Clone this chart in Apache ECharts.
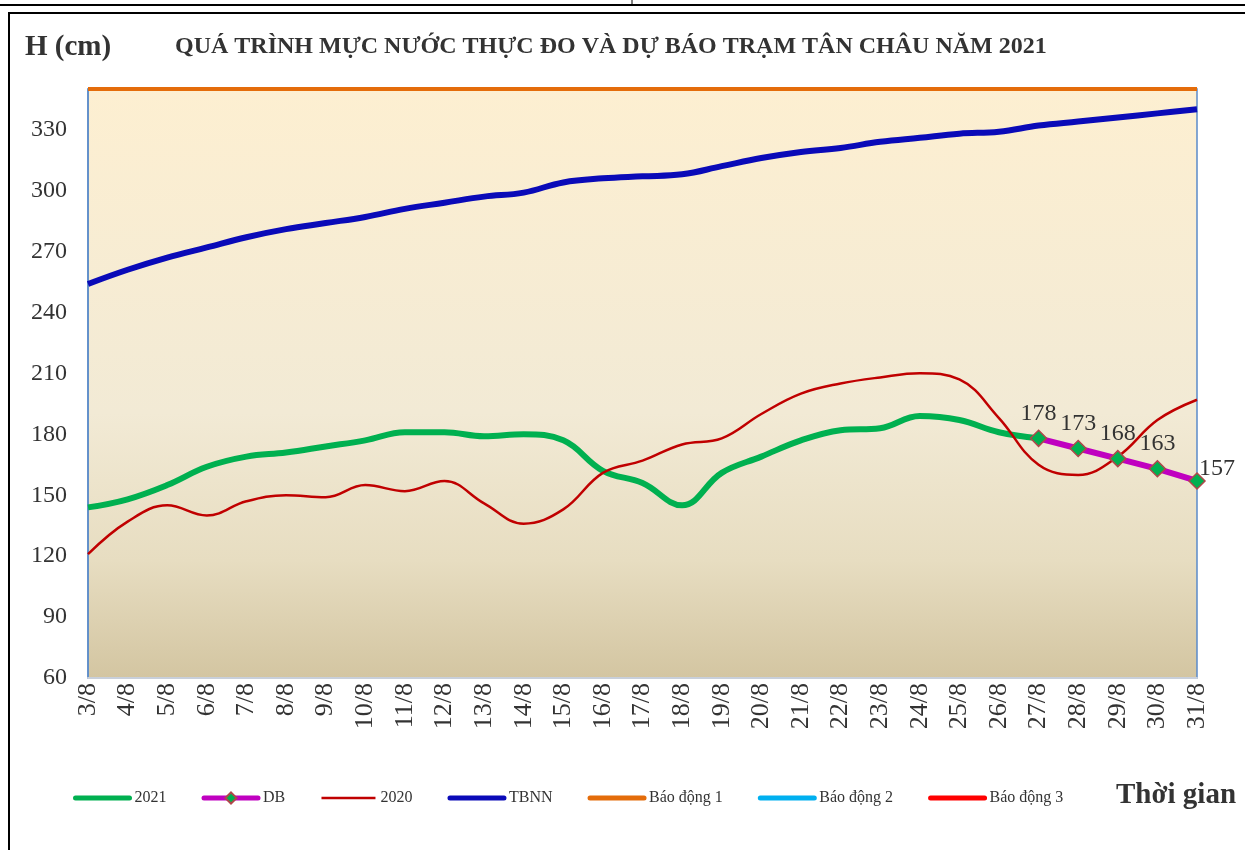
<!DOCTYPE html>
<html>
<head>
<meta charset="utf-8">
<script src="https://cdn.jsdelivr.net/npm/echarts@6/dist/echarts.min.js"></script>
<style>
  html, body { margin: 0; padding: 0; background: #fff; }
  #chart { width: 1245px; height: 850px; }
</style>
</head>
<body>
<div id="chart"></div>
<script>
var dates = ['3/8','4/8','5/8','6/8','7/8','8/8','9/8','10/8','11/8','12/8','13/8','14/8','15/8','16/8','17/8',
  '18/8','19/8','20/8','21/8','22/8','23/8','24/8','25/8','26/8','27/8','28/8','29/8','30/8','31/8'];
var h2021 = [144,148,155,164,169,171,174,177,181,181,179,180,177,162,156,145,161,169,177,182,183,189,187,181,178,
  null,null,null,null];
var db = [null,null,null,null,null,null,null,null,null,null,null,null,null,null,null,null,null,null,null,null,null,null,null,null,
  178,173,168,163,157];
var h2020 = [121,137,145,140,147,150,149,155,152,157,146,136,143,161,167,175,178,190,200,205,208,210,207,188,165,160,169,187,197];
var tbnn = [254,261,267,272,277,281,284,287,291,294,297,299,304,306,307,308,312,316,319,321,324,326,328,329,332,334,336,338,340];
var bd1 = [350,350,350,350,350,350,350,350,350,350,350,350,350,350,350,350,350,350,350,350,350,350,350,350,350,350,350,350,350];
var bd2 = [400,400,400,400,400,400,400,400,400,400,400,400,400,400,400,400,400,400,400,400,400,400,400,400,400,400,400,400,400];
var bd3 = [450,450,450,450,450,450,450,450,450,450,450,450,450,450,450,450,450,450,450,450,450,450,450,450,450,450,450,450,450];

var serif = '"Liberation Serif", "DejaVu Serif", serif';
var myChart = echarts.init(document.getElementById('chart'));

var dbData = db.map(function (v, i) {
  if (i === db.length - 1) return { value: v, label: { offset: [20, 12] } };
  return v;
});

// legend entries: plain lines (symbol hidden), DB keeps its diamond
var noSym = { opacity: 0 };

var option = {
  animation: false,
  title: {
    text: 'QUÁ TRÌNH MỰC NƯỚC THỰC ĐO VÀ DỰ BÁO TRẠM TÂN CHÂU NĂM 2021',
    left: 175, top: 35, padding: 0,
    textStyle: { fontFamily: serif, fontWeight: 'bold', fontSize: 24, color: '#333' }
  },
  graphic: [
    { type: 'line', shape: { x1: 0, y1: 5, x2: 1245, y2: 5 }, style: { stroke: '#000', lineWidth: 2 } },
    { type: 'line', shape: { x1: 632, y1: 0, x2: 632, y2: 5 }, style: { stroke: '#000', lineWidth: 1 } },
    { type: 'rect', shape: { x: 9, y: 13, width: 1250, height: 850 }, style: { fill: null, stroke: '#000', lineWidth: 2 } },
    { type: 'text', left: 25, top: 33, style: { text: 'H (cm)', font: 'bold 29px ' + serif, fill: '#333' } },
    { type: 'text', left: 1116, top: 781, style: { text: 'Thời gian', font: 'bold 29px ' + serif, fill: '#333' } }
  ],
  legend: {
    left: 73, top: 790, padding: 0,
    itemWidth: 54, itemHeight: 14, itemGap: 35,
    textStyle: { fontFamily: serif, fontSize: 16, color: '#333' },
    data: [
      { name: '2021', lineStyle: { width: 5, cap: 'round' }, itemStyle: noSym },
      { name: 'DB', lineStyle: { width: 5, cap: 'round' } },
      { name: '2020', lineStyle: { width: 2.5 }, itemStyle: noSym },
      { name: 'TBNN', lineStyle: { width: 5, cap: 'round' }, itemStyle: noSym },
      { name: 'Báo động 1', lineStyle: { width: 5, cap: 'round' }, itemStyle: noSym },
      { name: 'Báo động 2', lineStyle: { width: 5, cap: 'round' }, itemStyle: noSym },
      { name: 'Báo động 3', lineStyle: { width: 5, cap: 'round' }, itemStyle: noSym }
    ]
  },
  grid: {
    left: 88, right: 48, top: 89, bottom: 172,
    show: true,
    borderColor: '#5B8BC9', borderWidth: 1.5,
    backgroundColor: {
      type: 'linear', x: 0, y: 0, x2: 0, y2: 1,
      colorStops: [
        { offset: 0, color: '#FDEFD1' },
        { offset: 0.55, color: '#F2EAD5' },
        { offset: 0.8, color: '#E7DDC1' },
        { offset: 1, color: '#D3C5A1' }
      ]
    }
  },
  xAxis: {
    type: 'category', boundaryGap: false, data: dates,
    axisLine: { lineStyle: { color: '#C8CFDA', width: 2 } },
    axisTick: { show: false },
    axisLabel: { rotate: 90, interval: 0, margin: 5, fontFamily: serif, fontSize: 26, color: '#333' }
  },
  yAxis: {
    type: 'value', min: 60, max: 350, interval: 30,
    splitLine: { show: false },
    axisLine: { show: true, lineStyle: { color: '#5B8BC9', width: 1.5 } },
    axisTick: { show: false },
    axisLabel: { margin: 21, fontFamily: serif, fontSize: 24, color: '#333', showMaxLabel: false }
  },
  series: [
    { name: '2021', type: 'line', data: h2021, smooth: 0.4, symbol: 'none',
      lineStyle: { color: '#00B050', width: 6 }, itemStyle: { color: '#00B050' } },
    { name: 'DB', type: 'line', data: dbData, symbol: 'diamond', symbolSize: 16, z: 4,
      lineStyle: { color: '#C000C0', width: 6 },
      itemStyle: { color: '#00B050', borderColor: '#B0474A', borderWidth: 1.5 },
      label: { show: true, position: 'top', distance: 4, fontFamily: serif, fontSize: 24, color: '#333' } },
    { name: '2020', type: 'line', data: h2020, smooth: 0.4, symbol: 'none',
      lineStyle: { color: '#C00000', width: 2.5 }, itemStyle: { color: '#C00000' } },
    { name: 'TBNN', type: 'line', data: tbnn, smooth: 0.4, symbol: 'none',
      lineStyle: { color: '#0A0AB8', width: 6 }, itemStyle: { color: '#0A0AB8' } },
    { name: 'Báo động 1', type: 'line', data: bd1, symbol: 'none', clip: false,
      lineStyle: { color: '#E46C0A', width: 4 }, itemStyle: { color: '#E46C0A' } },
    { name: 'Báo động 2', type: 'line', data: bd2, symbol: 'none',
      lineStyle: { color: '#00B0F0', width: 4 }, itemStyle: { color: '#00B0F0' } },
    { name: 'Báo động 3', type: 'line', data: bd3, symbol: 'none',
      lineStyle: { color: '#FF0000', width: 4 }, itemStyle: { color: '#FF0000' } }
  ]
};
myChart.setOption(option, true);
</script>
</body>
</html>
